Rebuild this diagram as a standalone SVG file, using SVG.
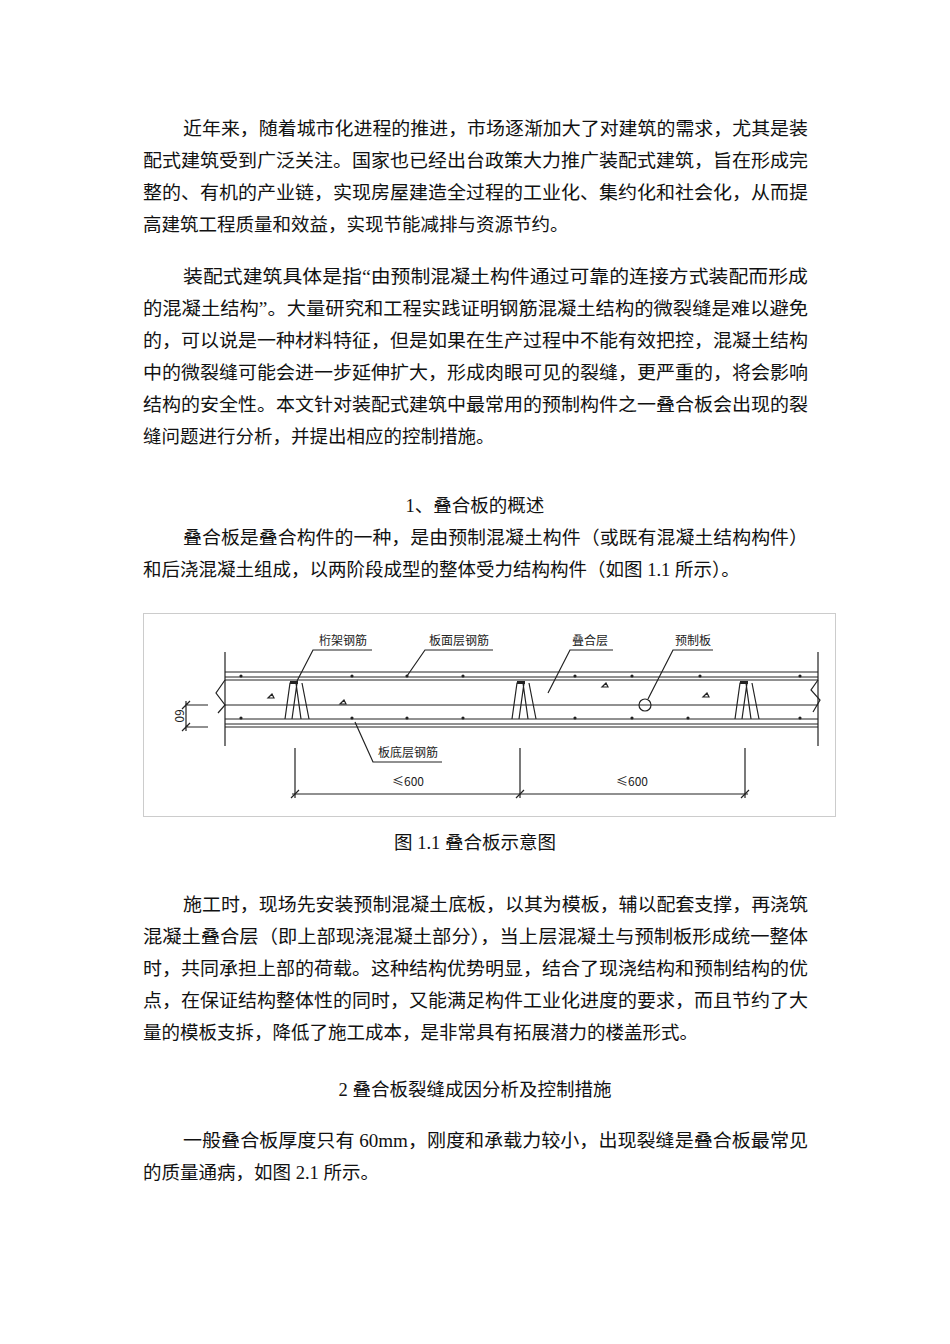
<svg xmlns="http://www.w3.org/2000/svg" width="950" height="1344" viewBox="0 0 950 1344">
<style>
.t{font-family:"Liberation Serif","Noto Sans CJK SC",serif;font-size:18.5px;fill:#111}
.l{font-family:"Noto Sans CJK SC",sans-serif;font-size:12px;fill:#222}
.s{stroke:#222;stroke-width:1.2;fill:none}
.d{fill:#222}
</style>
<rect width="950" height="1344" fill="#fff"/>
<g id="body">
<text class="t" x="183" y="135" textLength="625" lengthAdjust="spacingAndGlyphs">近年来，随着城市化进程的推进，市场逐渐加大了对建筑的需求，尤其是装</text>
<text class="t" x="143" y="167" textLength="665" lengthAdjust="spacingAndGlyphs">配式建筑受到广泛关注。国家也已经出台政策大力推广装配式建筑，旨在形成完</text>
<text class="t" x="143" y="199" textLength="665" lengthAdjust="spacingAndGlyphs">整的、有机的产业链，实现房屋建造全过程的工业化、集约化和社会化，从而提</text>
<text class="t" x="143" y="231">高建筑工程质量和效益，实现节能减排与资源节约。</text>
<text class="t" x="183" y="283" textLength="625" lengthAdjust="spacingAndGlyphs">装配式建筑具体是指“由预制混凝土构件通过可靠的连接方式装配而形成</text>
<text class="t" x="143" y="315" textLength="665" lengthAdjust="spacingAndGlyphs">的混凝土结构”。大量研究和工程实践证明钢筋混凝土结构的微裂缝是难以避免</text>
<text class="t" x="143" y="347" textLength="665" lengthAdjust="spacingAndGlyphs">的，可以说是一种材料特征，但是如果在生产过程中不能有效把控，混凝土结构</text>
<text class="t" x="143" y="379" textLength="665" lengthAdjust="spacingAndGlyphs">中的微裂缝可能会进一步延伸扩大，形成肉眼可见的裂缝，更严重的，将会影响</text>
<text class="t" x="143" y="411" textLength="665" lengthAdjust="spacingAndGlyphs">结构的安全性。本文针对装配式建筑中最常用的预制构件之一叠合板会出现的裂</text>
<text class="t" x="143" y="443">缝问题进行分析，并提出相应的控制措施。</text>
<text class="t" x="475" y="512" text-anchor="middle">1、叠合板的概述</text>
<text class="t" x="183" y="544" textLength="625" lengthAdjust="spacingAndGlyphs">叠合板是叠合构件的一种，是由预制混凝土构件（或既有混凝土结构构件）</text>
<text class="t" x="143" y="576">和后浇混凝土组成，以两阶段成型的整体受力结构构件（如图 1.1 所示）。</text>
<text class="t" x="475" y="849" text-anchor="middle">图 1.1 叠合板示意图</text>
<text class="t" x="183" y="911" textLength="625" lengthAdjust="spacingAndGlyphs">施工时，现场先安装预制混凝土底板，以其为模板，辅以配套支撑，再浇筑</text>
<text class="t" x="143" y="943" textLength="665" lengthAdjust="spacingAndGlyphs">混凝土叠合层（即上部现浇混凝土部分），当上层混凝土与预制板形成统一整体</text>
<text class="t" x="143" y="975" textLength="665" lengthAdjust="spacingAndGlyphs">时，共同承担上部的荷载。这种结构优势明显，结合了现浇结构和预制结构的优</text>
<text class="t" x="143" y="1007" textLength="665" lengthAdjust="spacingAndGlyphs">点，在保证结构整体性的同时，又能满足构件工业化进度的要求，而且节约了大</text>
<text class="t" x="143" y="1039">量的模板支拆，降低了施工成本，是非常具有拓展潜力的楼盖形式。</text>
<text class="t" x="475" y="1096" text-anchor="middle">2 叠合板裂缝成因分析及控制措施</text>
<text class="t" x="183" y="1147" textLength="625" lengthAdjust="spacingAndGlyphs">一般叠合板厚度只有 60mm，刚度和承载力较小，出现裂缝是叠合板最常见</text>
<text class="t" x="143" y="1179">的质量通病，如图 2.1 所示。</text>
</g>
<g id="figure">
<rect x="143.5" y="613.5" width="692" height="203" fill="none" stroke="#ccc"/>
<g class="s">
<path d="M225 652V746M818 652V746"/>
<path d="M225 672H818M225 677H818M225 680H818M225 705H818M225 719H818M225 724H818M225 727H818" stroke-width="1"/>
<path d="M225 680L216 693L225 705L218 713" />
<path d="M818 680L811 690L820 700L813 712"/>
<path d="M285 719L290 683H297L292 719M301 719L296 683M309 719L302 683"/>
<path d="M512 719L517 683H524L519 719M528 719L523 683M536 719L529 683"/>
<path d="M735 719L740 683H747L742 719M751 719L746 683M759 719L752 683"/>
<circle cx="645" cy="705" r="6"/>
</g>
<g class="d">
<circle cx="241" cy="676" r="1.6"/><circle cx="352" cy="676" r="1.6"/><circle cx="407" cy="676" r="1.6"/><circle cx="463" cy="676" r="1.6"/><circle cx="575" cy="676" r="1.6"/><circle cx="632" cy="676" r="1.6"/><circle cx="700" cy="676" r="1.6"/><circle cx="800" cy="676" r="1.6"/>
<circle cx="241" cy="718" r="1.6"/><circle cx="352" cy="718" r="1.6"/><circle cx="407" cy="718" r="1.6"/><circle cx="463" cy="718" r="1.6"/><circle cx="575" cy="718" r="1.6"/><circle cx="632" cy="718" r="1.6"/><circle cx="688" cy="718" r="1.6"/><circle cx="800" cy="718" r="1.6"/>
<rect x="290" y="681" width="8" height="3"/><rect x="517" y="681" width="8" height="3"/><rect x="740" y="681" width="8" height="3"/>
</g>
<g class="s" stroke-width="0.8">
<path d="M272 694l-4 4h6zM344 700l-4 4h6zM606 683l-4 4h6zM707 693l-4 4h6z"/>
</g>
</g>
<g id="connectors" class="s" stroke-width="1">
<path d="M372 650H313L297 681"/>
<path d="M493 650H425L407 676"/>
<path d="M613 650H570L548 693"/>
<path d="M713 650H673L648 699"/>
<path d="M442 762H373L355 722"/>
<path d="M295 748V798M520 748V798M745 748V798M292 794H748"/>
<path d="M291 798l8-8M516 798l8-8M741 798l8-8"/>
<path d="M185 705H208M185 727H208M186 701V731M182 709l8-8M182 731l8-8"/>
</g>
<g id="labels">
<text class="l" x="343" y="645" text-anchor="middle">桁架钢筋</text>
<text class="l" x="459" y="645" text-anchor="middle">板面层钢筋</text>
<text class="l" x="590" y="645" text-anchor="middle">叠合层</text>
<text class="l" x="693" y="645" text-anchor="middle">预制板</text>
<text class="l" x="408" y="757" text-anchor="middle">板底层钢筋</text>
<text class="l" x="408" y="786" text-anchor="middle">≤600</text>
<text class="l" x="632" y="786" text-anchor="middle">≤600</text>
<text class="l" transform="translate(175 716) rotate(90)" text-anchor="middle">60</text>
</g>
</svg>
